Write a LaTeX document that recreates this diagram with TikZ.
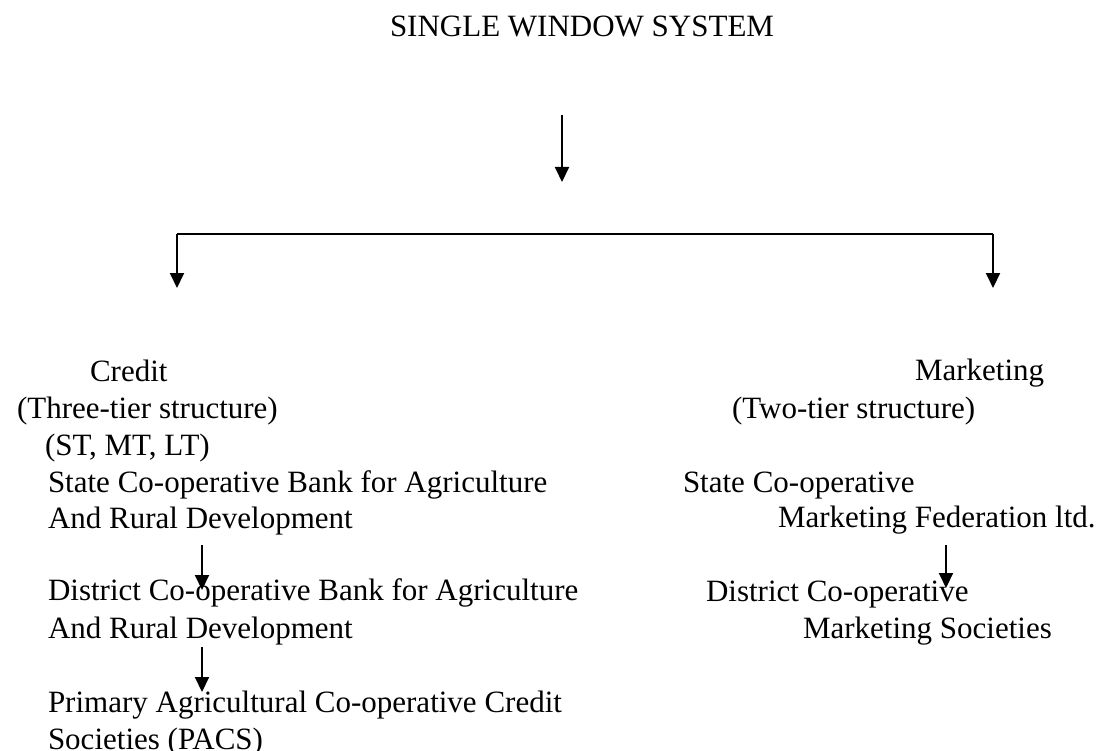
\documentclass[tikz,border=0pt]{standalone}
\usepackage{fontspec}
\setmainfont{Liberation Serif}
\usetikzlibrary{arrows.meta}
\tikzset{
  txt/.style={anchor=base west, inner sep=0pt, outer sep=0pt, font=\fontsize{31}{37}\selectfont},
  arr/.style={line width=2pt, -{Triangle[width=14pt,length=15pt]}},
  ln/.style={line width=2pt}
}
\begin{document}
\begin{tikzpicture}[x=1pt,y=-1pt]
\useasboundingbox (0,0) rectangle (1107,751);
% title
\node[txt] (title) at (390,37) {SINGLE WINDOW SYSTEM};
% top arrow and branches
\coordinate (a0) at (562,115);
\coordinate (a1) at (562,182);
\draw[arr] (a0) -- (a1);
\coordinate (hl) at (177,234);
\coordinate (hr) at (993,234);
\coordinate (bl) at (177,288);
\coordinate (br) at (993,288);
\draw[ln] (hl) -- (hr);
\draw[arr] (hl) -- (bl);
\draw[arr] (hr) -- (br);
% left column
\node[txt] (credit) at (90,381) {Credit};
\node[txt] (three) at (17,418) {(Three-tier structure)};
\node[txt] (stmt) at (45,455) {(ST, MT, LT)};
\node[txt] (scb1) at (48,492) {State Co-operative Bank for Agriculture};
\node[txt] (scb2) at (48,528) {And Rural Development};
\node[txt] (dcb1) at (48,600) {District Co-operative Bank for Agriculture};
\node[txt] (dcb2) at (48,638) {And Rural Development};
\node[txt] (pacs1) at (48,712) {Primary Agricultural Co-operative Credit};
\node[txt] (pacs2) at (48,749) {Societies (PACS)};
\coordinate (l1a) at (202,545);
\coordinate (l1b) at (202,590);
\coordinate (l2a) at (202,647);
\coordinate (l2b) at (202,692);
\draw[arr] (l1a) -- (l1b);
\draw[arr] (l2a) -- (l2b);
% right column
\node[txt] (mkt) at (915,380) {Marketing};
\node[txt] (two) at (732,418) {(Two-tier structure)};
\node[txt] (scm1) at (683,492) {State Co-operative};
\node[txt] (scm2) at (778,527) {Marketing Federation ltd.};
\node[txt] (dcm1) at (706,601) {District Co-operative};
\node[txt] (dcm2) at (803,638) {Marketing Societies};
\coordinate (r1a) at (946,545);
\coordinate (r1b) at (946,588);
\draw[arr] (r1a) -- (r1b);
\end{tikzpicture}
\end{document}
